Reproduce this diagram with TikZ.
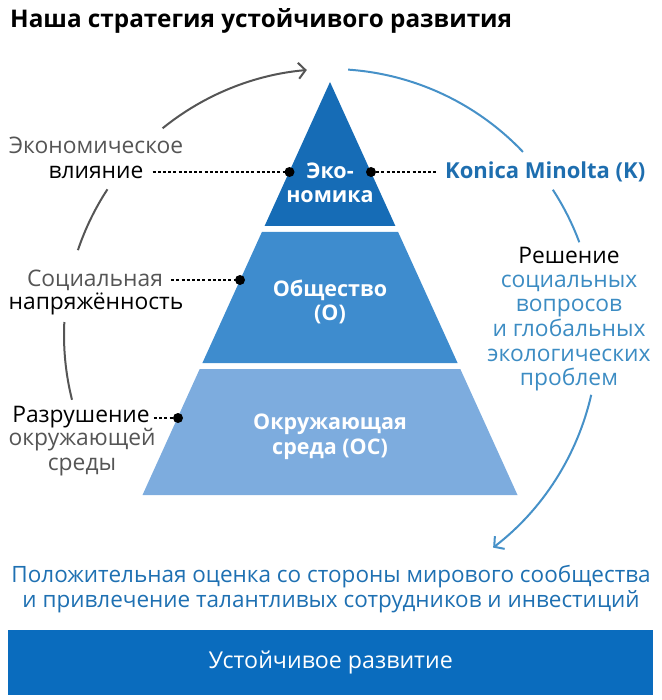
\documentclass[tikz,border=0pt]{standalone}
\usepackage{fontspec}
\setmainfont{Open Sans}
\usetikzlibrary{arrows.meta,calc}
\definecolor{ptop}{RGB}{22,108,182}
\definecolor{pmid}{RGB}{62,140,206}
\definecolor{pbot}{RGB}{125,172,222}
\definecolor{barblue}{RGB}{10,108,190}
\definecolor{kmblue}{RGB}{30,110,175}
\definecolor{lblue}{RGB}{60,140,195}
\definecolor{btext}{RGB}{30,112,178}
\definecolor{txtgray}{RGB}{85,85,85}
\definecolor{arcgray}{RGB}{85,85,85}
\definecolor{arcblue}{RGB}{70,145,200}
\begin{document}
\begin{tikzpicture}[x=1pt,y=1pt,
  lbl/.style={inner sep=0pt, anchor=base, yshift=-6.2pt, font=\fontsize{22.8}{26}\selectfont},
  pyr/.style={inner sep=0pt, anchor=base, yshift=-6pt, text=white, font=\fontsize{21.5}{24}\selectfont\bfseries},
  dotline/.style={line width=1.3pt, dash pattern=on 3pt off 2.2pt},
  dotmark/.style={circle, fill=black, inner sep=0pt, minimum size=10pt},
  grayarc/.style={line width=2pt, draw=arcgray},
  bluearc/.style={line width=2pt, draw=arcblue},
  tip/.style={-{Straight Barb[length=7pt,width=16pt]}}
]
\useasboundingbox (0,0) rectangle (661,-700);

% title
\node[anchor=base west, inner sep=0pt, font=\fontsize{24.3}{28}\selectfont\bfseries] (title) at (10,-28) {Наша стратегия устойчивого развития};

% pyramid
\fill[ptop] (330,-82) -- (395.4,-226) -- (264.6,-226) -- cycle;
\fill[pmid] (261.9,-232) -- (398.1,-232) -- (457.6,-363) -- (202.4,-363) -- cycle;
\fill[pbot] (199.7,-369) -- (460.3,-369) -- (517.5,-495) -- (142.5,-495) -- cycle;

\node[pyr] (p1a) at (330,-173) {Эко-};
\node[pyr] (p1b) at (330,-197) {номика};
\node[pyr] (p2a) at (330,-290) {Общество};
\node[pyr] (p2b) at (330,-314) {(О)};
\node[pyr] (p3a) at (330,-423) {Окружающая};
\node[pyr] (p3b) at (330,-448) {среда (ОС)};

% circle arcs
\draw[grayarc, tip] ([shift={(330,-335)}]129:266pt) arc[start angle=129, end angle=95, radius=266pt];
\draw[grayarc] ([shift={(330,-335)}]146.8:266pt) arc[start angle=146.8, end angle=161.4, radius=266pt];
\draw[grayarc] ([shift={(330,-335)}]177.2:266pt) arc[start angle=177.2, end angle=194.1, radius=266pt];
\draw[bluearc] ([shift={(330,-335)}]86.1:266pt) arc[start angle=86.1, end angle=43.5, radius=266pt];
\draw[bluearc] ([shift={(330,-335)}]33.1:266pt) arc[start angle=33.1, end angle=20.4, radius=266pt];
\draw[bluearc, tip] ([shift={(330,-335)}]-12.9:268pt) arc[start angle=-12.9, end angle=-52.5, radius=268pt];

% left labels
\node[lbl, text=txtgray] (econ1) at (96,-147) {Экономическое};
\node[lbl] (econ2) at (96,-172) {влияние};
\node[lbl, text=txtgray] (soc1) at (95,-280) {Социальная};
\node[lbl] (soc2) at (96,-303) {напряжённость};
\node[lbl] (env1) at (81,-416) {Разрушение};
\node[lbl, text=txtgray] (env2) at (82,-439) {окружающей};
\node[lbl, text=txtgray] (env3) at (82,-464) {среды};

% right labels
\node[lbl, anchor=base west, text=kmblue, font=\fontsize{22}{26}\selectfont\bfseries] (km) at (445,-172) {Konica Minolta (K)};
\node[lbl] (r1) at (569,-257) {Решение};
\node[lbl, text=lblue] (r2) at (569,-281) {социальных};
\node[lbl, text=lblue] (r3) at (569,-305) {вопросов};
\node[lbl, text=lblue] (r4) at (569,-330) {и глобальных};
\node[lbl, text=lblue] (r5) at (569,-355) {экологических};
\node[lbl, text=lblue] (r6) at (569,-379) {проблем};

% dots and dotted leaders
\node[dotmark] (dA) at (289.5,-172) {};
\node[dotmark] (dB) at (371,-172) {};
\node[dotmark] (dC) at (240,-280) {};
\node[dotmark] (dD) at (178,-418) {};
\draw[dotline] ($(econ2.east |- dA.center)+(9,0)$) -- (dA.center);
\draw[dotline] (dB.center) -- ($(km.west |- dB.center)+(-9,0)$);
\draw[dotline] ($(soc1.east |- dC.center)+(8,0)$) -- (dC.center);
\draw[dotline] ($(env1.east |- dD.center)+(4,0)$) -- (dD.center);

% bottom texts
\node[lbl, text=btext, font=\fontsize{22.5}{26}\selectfont] (b1) at (331,-576) {Положительная оценка со стороны мирового сообщества};
\node[lbl, text=btext, font=\fontsize{22.5}{26}\selectfont] (b2) at (331,-601) {и привлечение талантливых сотрудников и инвестиций};

% bar
\node[fill=barblue, minimum width=645pt, minimum height=65pt, inner sep=0pt, anchor=north west, text=white, font=\fontsize{23.2}{26}\selectfont] (bar) at (8,-630) {Устойчивое развитие};
\end{tikzpicture}
\end{document}
